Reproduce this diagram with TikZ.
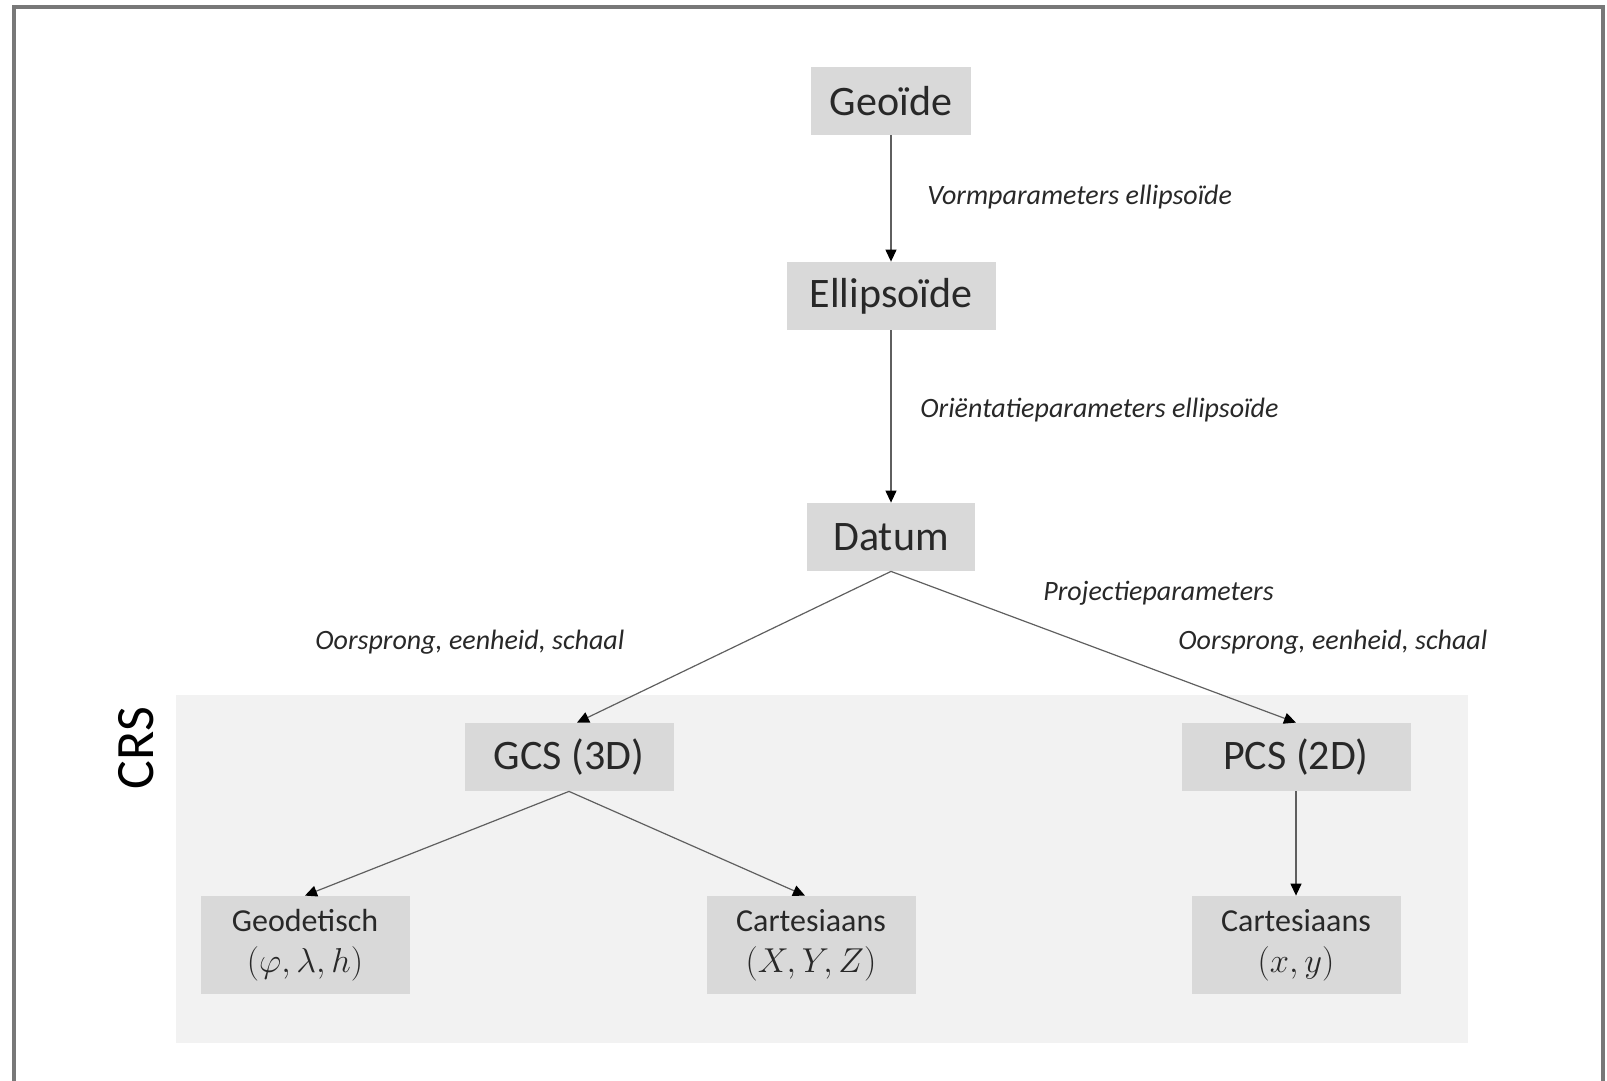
\documentclass[tikz,border=0pt]{standalone}
\usepackage{fontspec}
\setmainfont{Carlito}
\usepackage{tikz}
\usetikzlibrary{positioning,calc}
\usetikzlibrary{arrows.meta}
\definecolor{BoxGray}{RGB}{217,217,217}
\definecolor{CrsGray}{RGB}{242,242,242}
\definecolor{FrameGray}{RGB}{120,120,120}
\definecolor{LineGray}{RGB}{95,95,95}
\definecolor{TextGray}{RGB}{40,40,40}
\tikzset{
	blok/.style={fill=BoxGray,draw=none,inner sep=0pt,text=TextGray,
		minimum height=34pt,font=\fontsize{21}{25}\selectfont},
	subblok/.style={fill=BoxGray,draw=none,inner sep=0pt,text=TextGray,align=center,
		minimum width=104.5pt,minimum height=49pt,font=\fontsize{16}{20.5}\selectfont},
	pijl/.style={draw=LineGray,line width=0.6pt,-{Triangle[length=6pt,width=5.5pt,color=black]}},
	param/.style={anchor=west,inner sep=0pt,text=TextGray,font=\fontsize{14}{16}\selectfont\itshape},
}

\begin{document}
\begin{tikzpicture}[x=0.5pt,y=-0.5pt]
	\useasboundingbox (0,0) rectangle (1607,1081);
	% kader en CRS-vlak
	\draw[FrameGray,line width=1.6pt] (14,1081) -- (14,7) -- (1603,7) -- (1603,1081);
	\fill[CrsGray] (176,695) rectangle (1468,1043);
	\node[rotate=90,text=black,font=\fontsize{27}{30}\selectfont] (crs) at (136,748) {CRS};
	% blokken
	\node[blok,minimum width=80pt] (geoide) at (891,101) {Geoïde};
	\node[blok,minimum width=104.5pt] (ellipsoide) at (891,296) {Ellipsoïde};
	\node[blok,minimum width=84pt] (datum) at (891,537) {Datum};
	\node[blok,minimum width=104.5pt] (gcs) at (569,757) {GCS (3D)};
	\node[blok,minimum width=114.5pt] (pcs) at (1296,757) {PCS (2D)};
	\node[subblok] (geodetisch) at (305,945) {Geodetisch\\$(\varphi,\lambda,h)$};
	\node[subblok] (cart3d) at (811,945) {Cartesiaans\\$(X,Y,Z)$};
	\node[subblok] (cart2d) at (1296,945) {Cartesiaans\\$(x,y)$};
	% pijlen
	\draw[pijl] (geoide) -- (ellipsoide);
	\draw[pijl] (ellipsoide) -- (datum);
	\draw[pijl] (datum.south) -- ([xshift=4pt]gcs.north);
	\draw[pijl] (datum.south) -- (pcs.north);
	\draw[pijl] (gcs.south) -- (geodetisch.north);
	\draw[pijl] (gcs.south) -- ([xshift=-3pt]cart3d.north);
	\draw[pijl] (pcs) -- (cart2d);
	% parameters
	\node[param] (vorm) at (927,197) {Vormparameters ellipsoïde};
	\node[param] (orient) at (920,410) {Oriëntatieparameters ellipsoïde};
	\node[param] (proj) at (1043,593) {Projectieparameters};
	\node[param] (oorsprongR) at (1178,642) {Oorsprong, eenheid, schaal};
	\node[param] (oorsprongL) at (315,642) {Oorsprong, eenheid, schaal};
\end{tikzpicture}
\end{document}
